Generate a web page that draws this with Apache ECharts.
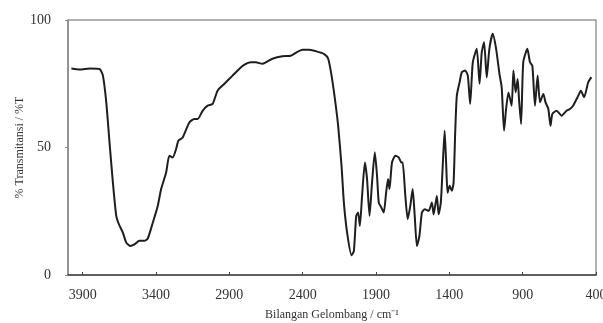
<!DOCTYPE html>
<html>
<head>
<meta charset="utf-8">
<script src="https://cdn.jsdelivr.net/npm/echarts@6/dist/echarts.min.js"></script>
<style>html,body{margin:0;padding:0;background:#fff}#c{width:603px;height:323px}</style>
</head>
<body>
<div id="c"></div>
<script>
const wavenumbers = [3977,3920,3852,3785,3762,3739,3717,3694,3671,3653,3626,3603,3576,3547,3513,3479,3456,3422,3388,3365,3331,3309,3286,3263,3247,3218,3173,3139,3116,3082,3048,3014,2980,2935,2878,2833,2799,2753,2719,2674,2651,2606,2538,2481,2447,2402,2357,2300,2255,2226,2203,2180,2158,2135,2119,2097,2067,2051,2035,2022,2010,1995,1976,1961,1944,1927,1908,1893,1881,1863,1847,1831,1818,1808,1791,1768,1745,1727,1718,1700,1684,1666,1650,1636,1621,1604,1587,1568,1541,1519,1507,1485,1473,1458,1444,1432,1421,1412,1398,1383,1371,1360,1349,1330,1315,1292,1274,1258,1240,1213,1194,1179,1163,1145,1127,1104,1081,1058,1043,1027,1013,997,975,963,948,934,925,911,896,868,850,834,816,798,782,759,744,725,710,698,669,635,601,578,556,526,503,481,453,431];
const transmittance = [81.0,80.6,81.0,80.8,78.2,67.7,52.0,36.3,23.2,19.9,16.6,12.7,11.4,12.0,13.4,13.4,14.3,20.5,27.1,33.7,40.2,46.8,46.1,49.4,52.7,53.9,59.8,61.2,61.2,64.4,66.4,67.1,72.3,74.9,78.2,80.8,82.4,83.4,83.4,82.8,83.4,84.8,85.8,86.0,87.1,88.3,88.3,87.6,86.7,84.8,78.2,69.0,58.5,42.8,28.4,16.6,7.7,9.4,23.2,24.5,19.3,31.0,44.1,37.6,23.2,36.3,48.1,38.9,28.4,26.4,24.5,32.3,37.6,33.7,44.1,46.8,46.1,44.1,44.1,31.0,21.9,27.1,33.7,23.2,11.4,15.3,24.5,25.8,25.1,28.4,23.8,31.0,23.8,28.4,44.1,56.6,42.8,32.3,35.0,33.0,36.3,55.9,70.3,75.6,79.5,80.2,78.2,67.1,83.4,88.7,75.0,87.3,91.3,77.5,88.7,94.6,88.7,78.8,73.6,56.6,65.1,71.6,66.4,80.2,71.6,76.9,69.0,59.2,83.4,88.7,83.4,82.1,66.4,78.2,67.7,71.0,67.7,65.1,58.5,63.1,64.4,62.5,64.4,65.1,66.4,69.7,72.3,69.7,75.6,77.6];
const xTicks = [3900,3400,2900,2400,1900,1400,900,400];
const yTicks = [0,50,100];
const xTitle = 'Bilangan Gelombang / cm\u207B\u00B9';
const yTitle = '% Transmitansi / %T';

const chart = echarts.init(document.getElementById('c'), null, {renderer: 'canvas'});
const font = 'Liberation Serif';
chart.setOption({
  animation: false,
  backgroundColor: '#fff',
  grid: {left: 68, right: 7, top: 20, bottom: 48, outerBoundsMode: 'none', containLabel: false, show: true, borderColor: '#999', borderWidth: 1.5, backgroundColor: 'transparent'},
  xAxis: {
    type: 'value', min: 400, max: 4000, inverse: true,
    name: xTitle, nameLocation: 'middle', nameGap: 34, nameMoveOverlap: false,
    nameTextStyle: {fontFamily: font, fontSize: 12, color: '#333'},
    axisLine: {lineStyle: {color: '#444', width: 1.5}},
    axisTick: {inside: true, length: 3, customValues: xTicks, lineStyle: {color: '#444'}},
    axisLabel: {customValues: xTicks, formatter: v => String(v), fontFamily: font, fontSize: 14, color: '#333', margin: 13},
    splitLine: {show: false}
  },
  yAxis: {
    type: 'value', min: 0, max: 100, interval: 50,
    name: yTitle, nameLocation: 'middle', nameGap: 42, nameRotate: 90, nameMoveOverlap: false,
    nameTextStyle: {fontFamily: font, fontSize: 12, color: '#333'},
    axisLine: {show: true, lineStyle: {color: '#888', width: 1.5}},
    axisTick: {show: true, length: 3, lineStyle: {color: '#888'}},
    axisLabel: {customValues: yTicks, formatter: v => String(v), fontFamily: font, fontSize: 14, color: '#333', margin: 17},
    splitLine: {show: false}
  },
  series: [{
    type: 'line',
    data: wavenumbers.map((w, i) => [w, transmittance[i]]),
    showSymbol: false,
    smooth: 0.2,
    lineStyle: {color: '#1e1e1e', width: 2}
  }]
});
</script>
</body>
</html>
